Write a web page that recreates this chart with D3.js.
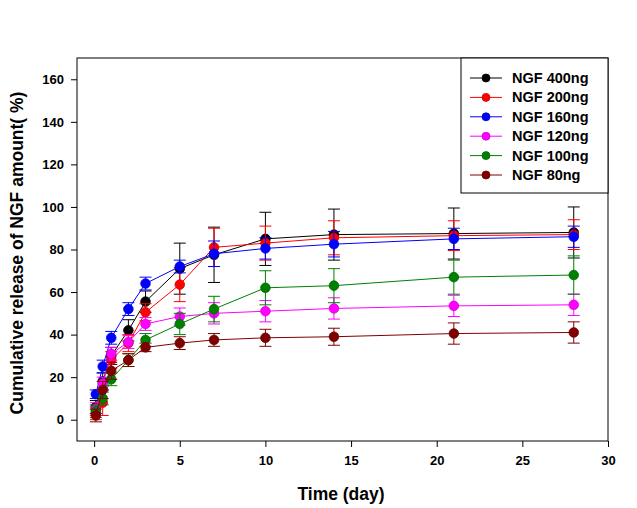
<!DOCTYPE html>
<html>
<head>
<meta charset="utf-8">
<script src="https://cdn.jsdelivr.net/npm/d3@7"></script>
<style>
  body { margin: 0; background: #fff; }
  svg { display: block; font-family: Arial, "Liberation Sans", sans-serif; }
</style>
</head>
<body>
<svg id="chart" width="637" height="508"></svg>
<script>
const times = [0.1, 0.5, 1, 2, 3, 5, 7, 10, 14, 21, 28];
const seriesNames = ["NGF 400ng", "NGF 200ng", "NGF 160ng", "NGF 120ng", "NGF 100ng", "NGF 80ng"];
const seriesColors = ["#000000", "#ff0000", "#0000ff", "#ff00ff", "#008000", "#800000"];
const ngf400 = [6, 18, 30, 42, 55.5, 71, 77.5, 85, 87, 87.5, 88];
const ngf200 = [3, 8, 28, 36, 50.5, 63.5, 81, 83, 85.5, 86.5, 87];
const ngf160 = [12, 25, 38.5, 52, 64, 72, 78, 80.5, 82.5, 85, 86];
const ngf120 = [5, 17, 31, 36.5, 45, 48.5, 50, 51, 52.3, 53.5, 54];
const ngf100 = [4, 10, 19, 28, 37.5, 45, 52, 62, 63, 67, 68];
const ngf80  = [2, 14, 23, 28, 34, 36, 37.5, 38.5, 39, 40.5, 41];
const err400 = [3, 4, 4, 5, 5, 12, 13, 12.5, 12, 12, 12];
const err200 = [3, 6, 4, 4, 4, 8, 9, 8, 8, 7, 7];
const err160 = [2, 3, 3, 3, 3, 3, 6, 5, 6, 5, 5];
const err120 = [3, 3, 3, 3, 3, 4, 5, 5, 5, 5, 5];
const err100 = [3, 3, 3, 3, 3, 5, 6, 8, 8, 8, 9];
const err80  = [3, 4, 4, 3, 2, 3, 3, 4, 4, 5, 5];
const xTicks = [0, 5, 10, 15, 20, 25, 30];
const yTicks = [0, 20, 40, 60, 80, 100, 120, 140, 160];

const values = [ngf400, ngf200, ngf160, ngf120, ngf100, ngf80];
const errors = [err400, err200, err160, err120, err100, err80];
const series = seriesNames.map((name, i) => ({
  name, color: seriesColors[i],
  pts: times.map((t, j) => ({ t, v: values[i][j], e: errors[i][j] }))
}));

const svg = d3.select("#chart");
const pL = 77, pR = 608, pT = 58, pB = 441;
const x = d3.scaleLinear().domain([-1, 30]).range([pL, pR]);
const y = d3.scaleLinear().domain([-10, 170]).range([pB, pT]);

// frame
svg.append("rect").attr("x", pL).attr("y", pT)
  .attr("width", pR - pL).attr("height", pB - pT)
  .attr("fill", "none").attr("stroke", "#000").attr("stroke-width", 1);

// axes
const xAxis = svg.append("g").attr("transform", `translate(0,${pB})`)
  .call(d3.axisBottom(x).tickValues(xTicks).tickSize(6).tickPadding(9));
const yAxis = svg.append("g").attr("transform", `translate(${pL},0)`)
  .call(d3.axisLeft(y).tickValues(yTicks).tickSize(6).tickPadding(7));
[xAxis, yAxis].forEach(g => {
  g.select(".domain").remove();
  g.selectAll("text").attr("font-size", 13).attr("font-weight", "bold")
    .attr("fill", "#000").attr("font-family", "Arial, 'Liberation Sans', sans-serif");
  g.selectAll("line").attr("stroke", "#000");
});

// axis titles
svg.append("text").attr("x", 341).attr("y", 500)
  .attr("text-anchor", "middle").attr("font-size", 17.5).attr("font-weight", "bold")
  .text("Time (day)");
svg.append("text").attr("transform", `translate(23,253) rotate(-90)`)
  .attr("text-anchor", "middle").attr("font-size", 17.5).attr("font-weight", "bold")
  .text("Cumulative release of NGF amount( %)");

const line = d3.line().x(d => x(d.t)).y(d => y(d.v));
const capW = 6;

series.forEach(s => {
  const g = svg.append("g");
  g.append("path").datum(s.pts).attr("d", line)
    .attr("fill", "none").attr("stroke", s.color).attr("stroke-width", 1);
  const eb = g.selectAll("g.eb").data(s.pts).enter().append("g").attr("class", "eb")
    .attr("stroke", s.color).attr("stroke-width", 1);
  eb.append("line").attr("x1", d => x(d.t)).attr("x2", d => x(d.t))
    .attr("y1", d => y(d.v - d.e)).attr("y2", d => y(d.v + d.e));
  eb.append("line").attr("x1", d => x(d.t) - capW).attr("x2", d => x(d.t) + capW)
    .attr("y1", d => y(d.v + d.e)).attr("y2", d => y(d.v + d.e));
  eb.append("line").attr("x1", d => x(d.t) - capW).attr("x2", d => x(d.t) + capW)
    .attr("y1", d => y(d.v - d.e)).attr("y2", d => y(d.v - d.e));
  g.selectAll("circle").data(s.pts).enter().append("circle")
    .attr("cx", d => x(d.t)).attr("cy", d => y(d.v)).attr("r", 4.8)
    .attr("fill", s.color).attr("stroke", d3.color(s.color).darker(0.5)).attr("stroke-width", 0.8);
});

// legend
const lg = svg.append("g");
lg.append("rect").attr("x", 461).attr("y", pT).attr("width", pR - 461).attr("height", 135)
  .attr("fill", "#fff").attr("stroke", "#000").attr("stroke-width", 1);
series.forEach((s, i) => {
  const yy = 78 + i * 19.4;
  lg.append("line").attr("x1", 470).attr("x2", 502).attr("y1", yy).attr("y2", yy)
    .attr("stroke", s.color).attr("stroke-width", 1);
  lg.append("circle").attr("cx", 486).attr("cy", yy).attr("r", 4)
    .attr("fill", s.color).attr("stroke", d3.color(s.color).darker(0.5)).attr("stroke-width", 0.8);
  lg.append("text").attr("x", 512).attr("y", yy + 5).attr("font-size", 14.5)
    .attr("font-weight", "bold").text(s.name);
});
</script>
</body>
</html>
